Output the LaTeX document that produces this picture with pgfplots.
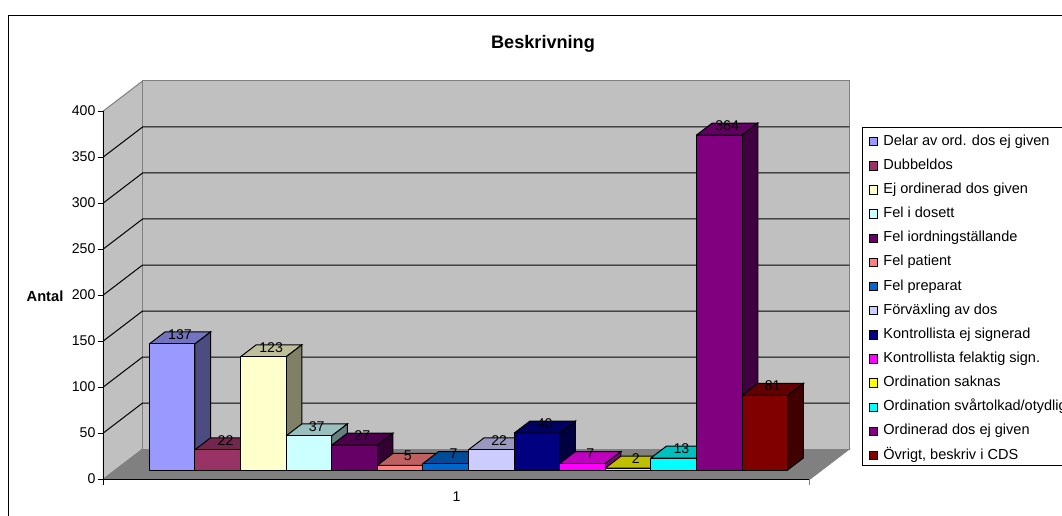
\documentclass[border=0pt]{standalone}
\usepackage{fontspec}
\setmainfont{Liberation Sans}
\usepackage{pgfplots}
\pgfplotsset{compat=1.18}
% one drawing unit; 1062 units make the picture's width
\newlength{\un}\setlength{\un}{0.75pt}
\definecolor{c1}{HTML}{9999FF}\definecolor{c2}{HTML}{993366}
\definecolor{c3}{HTML}{FFFFCC}\definecolor{c4}{HTML}{CCFFFF}
\definecolor{c5}{HTML}{660066}\definecolor{c6}{HTML}{FF8080}
\definecolor{c7}{HTML}{0066CC}\definecolor{c8}{HTML}{CCCCFF}
\definecolor{c9}{HTML}{000080}\definecolor{c10}{HTML}{FF00FF}
\definecolor{c11}{HTML}{FFFF00}\definecolor{c12}{HTML}{00FFFF}
\definecolor{c13}{HTML}{800080}\definecolor{c14}{HTML}{800000}
\definecolor{wall}{HTML}{C0C0C0}\definecolor{floorc}{HTML}{808080}
\newcommand{\sz}{\fontsize{10.6}{12}\selectfont}
% a bar: left edge on the category axis, value, colour
\newcommand{\drawbar}[3]{%
  \addplot3[draw=black,line width=\un,fill=#3!75!black] coordinates
    {(#1,0.3,#2)(#1+1,0.3,#2)(#1+1,0.7,#2)(#1,0.7,#2)(#1,0.3,#2)};
  \addplot3[draw=black,line width=\un,fill=#3!50!black] coordinates
    {(#1+1,0.3,0)(#1+1,0.7,0)(#1+1,0.7,#2)(#1+1,0.3,#2)(#1+1,0.3,0)};
  \addplot3[draw=black,line width=\un,fill=#3] coordinates
    {(#1,0.3,0)(#1+1,0.3,0)(#1+1,0.3,#2)(#1,0.3,#2)(#1,0.3,0)};
}
\newcommand{\val}[2]{\node[font=\sz,inner sep=0pt,yshift=3.5\un] at (axis cs:#1+0.5,0.5,#2) {#2};}
\begin{document}
\begin{tikzpicture}
\path[use as bounding box] (0pt,0pt) rectangle (796.5pt,386.25pt);
\fill[white] (0pt,0pt) rectangle (796.5pt,386.25pt);
% chart frame, running on past the right and lower edges
\draw[black,line width=1.5\un] (6.5pt,-8pt) -- (6.5pt,374.6pt) -- (806pt,374.6pt);
% legend frame
\draw[black,line width=\un] (806pt,37.5pt) -- (646.8pt,37.5pt) -- (646.8pt,290.9pt) -- (806pt,290.9pt);
% floor, walls, grid and bars in an oblique projection
\begin{axis}[
  at={(77.475pt,27pt)},anchor=origin,
  x={(34.196pt,0pt)},y={(29.475pt,22.5pt)},z={(0pt,0.69pt)},
  xmin=0,xmax=15.5,ymin=0,ymax=1,zmin=0,zmax=400,
  hide axis,clip=false]
\addplot3[draw=floorc,line width=\un,fill=floorc] coordinates {(0,0,0)(15.5,0,0)(15.5,1,0)(0,1,0)(0,0,0)};
\addplot3[draw=floorc,line width=\un,fill=wall] coordinates {(0,0,0)(0,1,0)(0,1,400)(0,0,400)(0,0,0)};
\addplot3[draw=floorc,line width=\un,fill=wall] coordinates {(0,1,0)(15.5,1,0)(15.5,1,400)(0,1,400)(0,1,0)};
\addplot3[black,line width=\un] coordinates {(0,0,50)(0,1,50)(15.5,1,50)};
\addplot3[black,line width=\un] coordinates {(0,0,100)(0,1,100)(15.5,1,100)};
\addplot3[black,line width=\un] coordinates {(0,0,150)(0,1,150)(15.5,1,150)};
\addplot3[black,line width=\un] coordinates {(0,0,200)(0,1,200)(15.5,1,200)};
\addplot3[black,line width=\un] coordinates {(0,0,250)(0,1,250)(15.5,1,250)};
\addplot3[black,line width=\un] coordinates {(0,0,300)(0,1,300)(15.5,1,300)};
\addplot3[black,line width=\un] coordinates {(0,0,350)(0,1,350)(15.5,1,350)};
\drawbar{0.75}{137}{c1}
\drawbar{1.75}{22}{c2}
\drawbar{2.75}{123}{c3}
\drawbar{3.75}{37}{c4}
\drawbar{4.75}{27}{c5}
\drawbar{5.75}{5}{c6}
\drawbar{6.75}{7}{c7}
\drawbar{7.75}{22}{c8}
\drawbar{8.75}{40}{c9}
\drawbar{9.75}{7}{c10}
\drawbar{10.75}{2}{c11}
\drawbar{11.75}{13}{c12}
\drawbar{12.75}{364}{c13}
\drawbar{13.75}{81}{c14}
\val{0.75}{137}\val{1.75}{22}\val{2.75}{123}\val{3.75}{37}\val{4.75}{27}
\val{5.75}{5}\val{6.75}{7}\val{7.75}{22}\val{8.75}{40}\val{9.75}{7}
\val{10.75}{2}\val{11.75}{13}\val{12.75}{364}\val{13.75}{81}
\end{axis}
% front axis lines, ticks, labels and legend
\begin{axis}[
  at={(77.475pt,27pt)},anchor=south west,scale only axis,
  width=530.0pt,height=276pt,
  xmin=0,xmax=15.5,ymin=0,ymax=400,
  axis x line*=bottom,axis y line*=left,
  axis line style={-,line width=\un,black},
  clip=false,
  ytick={0,50,...,400},
  xtick={0},xticklabels={},
  extra x ticks={7.75},extra x tick labels={1},
  extra x tick style={major tick length=0pt,tick label style={yshift=-8\un}},
  tick align=outside,major tick length=4.2pt,
  tick style={black,line width=\un},
  tick label style={font=\sz},
  /pgf/number format/assume math mode=true,
  yticklabel style={inner sep=0pt,xshift=-2\un},
  legend cell align=left,
  legend style={at={(765/706.7,344.6/368)},anchor=north west,
    draw=none,fill=none,font=\fontsize{10.9}{12}\selectfont,inner sep=0pt,
    row sep=7.61pt,
    nodes={inner sep=0pt,anchor=west,text height=7.9pt,text depth=2.6pt},
    /tikz/column 1/.style={column sep=4pt}},
  legend image code/.code={\draw[#1,draw=black,line width=\un] (0pt,-3.2pt) rectangle (6.4pt,3.2pt);},
]
\addlegendimage{fill=c1}\addlegendentry{Delar av ord. dos ej given}
\addlegendimage{fill=c2}\addlegendentry{Dubbeldos}
\addlegendimage{fill=c3}\addlegendentry{Ej ordinerad dos given}
\addlegendimage{fill=c4}\addlegendentry{Fel i dosett}
\addlegendimage{fill=c5}\addlegendentry{Fel iordningställande}
\addlegendimage{fill=c6}\addlegendentry{Fel patient}
\addlegendimage{fill=c7}\addlegendentry{Fel preparat}
\addlegendimage{fill=c8}\addlegendentry{Förväxling av dos}
\addlegendimage{fill=c9}\addlegendentry{Kontrollista ej signerad}
\addlegendimage{fill=c10}\addlegendentry{Kontrollista felaktig sign.}
\addlegendimage{fill=c11}\addlegendentry{Ordination saknas}
\addlegendimage{fill=c12}\addlegendentry{Ordination svårtolkad/otydlig}
\addlegendimage{fill=c13}\addlegendentry{Ordinerad dos ej given}
\addlegendimage{fill=c14}\addlegendentry{Övrigt, beskriv i CDS}
\addplot[floorc,line width=\un,forget plot] coordinates {(15.5,0)(15.5,-7)};
\end{axis}
\node[font=\fontsize{13.6}{15}\bfseries\selectfont] at (407.25pt,353pt) {Beskrivning};
\node[font=\fontsize{11}{13}\bfseries\selectfont] at (33.75pt,164.25pt) {Antal};
\end{tikzpicture}
\end{document}
